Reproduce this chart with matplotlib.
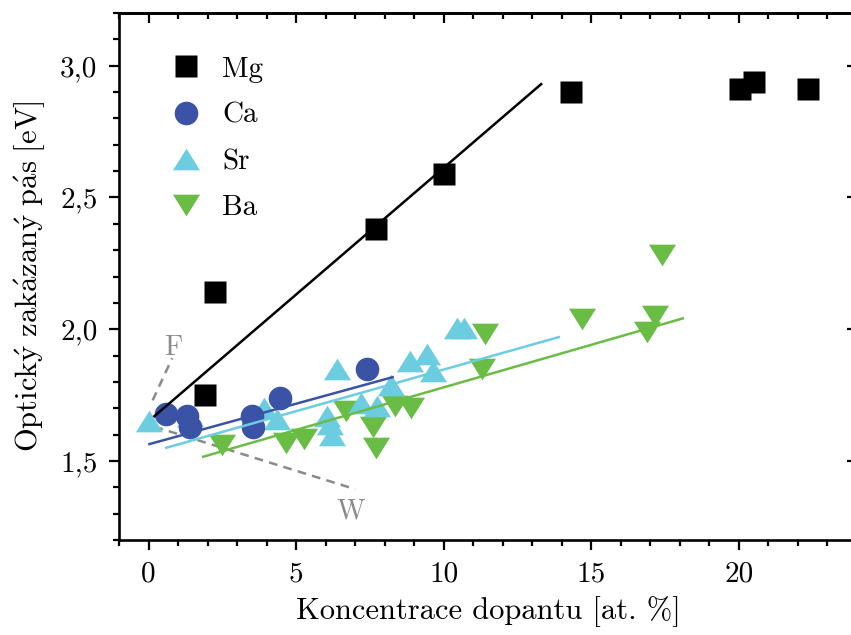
import matplotlib
matplotlib.use("Agg")
import matplotlib.pyplot as plt
from matplotlib.ticker import MultipleLocator, FixedLocator, FixedFormatter

plt.rcParams["font.family"] = ["cmr10", "DejaVu Serif"]
plt.rcParams["axes.unicode_minus"] = False
plt.rcParams["mathtext.fontset"] = "cm"

# --- data ------------------------------------------------------------------
mg_x = [1.9, 2.25, 7.7, 10.0, 14.3, 20.05, 20.5, 22.35]
mg_y = [1.75, 2.14, 2.38, 2.59, 2.90, 2.91, 2.94, 2.91]

ca_x = [0.6, 1.3, 1.4, 3.5, 3.55, 4.45, 7.4]
ca_y = [1.68, 1.67, 1.63, 1.67, 1.63, 1.74, 1.85]

sr_x = [0.0, 1.4, 3.9, 4.35, 6.4, 6.05, 6.15, 6.2, 7.2, 7.75, 8.2, 8.85, 9.45, 9.65, 10.45, 10.7]
sr_y = [1.65, 1.67, 1.70, 1.66, 1.85, 1.67, 1.64, 1.60, 1.72, 1.71, 1.79, 1.88, 1.905, 1.84, 2.005, 2.005]

ba_x = [2.5, 4.65, 5.25, 6.7, 7.6, 7.7, 8.35, 8.9, 11.3, 11.4, 14.7, 16.9, 17.15, 17.4]
ba_y = [1.56, 1.57, 1.585, 1.69, 1.63, 1.55, 1.71, 1.70, 1.85, 1.98, 2.04, 1.99, 2.05, 2.28]

# fit lines (endpoints)
mg_fit_x, mg_fit_y = [0.2, 13.3], [1.67, 2.93]
ca_fit_x, ca_fit_y = [0.03, 8.27], [1.564, 1.818]
sr_fit_x, sr_fit_y = [0.6, 13.9], [1.55, 1.97]
ba_fit_x, ba_fit_y = [1.85, 18.1], [1.516, 2.041]

# guide lines F and W
f_x, f_y = [0.14, 0.8], [1.73, 1.89]
w_x, w_y = [0.2, 7.0], [1.63, 1.393]

xticks = [0, 5, 10, 15, 20]
yticks = [1.5, 2.0, 2.5, 3.0]
ytick_labels = ["1,5", "2,0", "2,5", "3,0"]

BLACK = "#000000"
CA_C = "#3a53a6"
SR_C = "#6dcde0"
BA_C = "#69bd45"
GUIDE = "#8a8a8a"

tri_up = [(-1, -0.8), (1, -0.8), (0, 0.8), (-1, -0.8)]
tri_dn = [(-1, 0.8), (1, 0.8), (0, -0.8), (-1, 0.8)]

fig = plt.figure(figsize=(8.51, 6.35), dpi=100)
ax = fig.add_axes([119 / 851, 95 / 635, 738 / 851, 527 / 635])

# guides and fits underneath the markers
ax.plot(f_x, f_y, ls=(0, (3.5, 2.5)), color=GUIDE, lw=1.8, zorder=1)
ax.plot(w_x, w_y, ls=(0, (3.5, 2.5)), color=GUIDE, lw=1.8, zorder=1)
ax.text(0.85, 1.93, "F", color=GUIDE, fontsize=20, ha="center", va="center")
ax.text(6.85, 1.31, "W", color=GUIDE, fontsize=20, ha="center", va="center")

ax.plot(mg_fit_x, mg_fit_y, color=BLACK, lw=1.8, zorder=4)
ax.plot(ca_fit_x, ca_fit_y, color=CA_C, lw=1.8, zorder=4)
ax.plot(sr_fit_x, sr_fit_y, color=SR_C, lw=1.8, zorder=4)
ax.plot(ba_fit_x, ba_fit_y, color=BA_C, lw=1.8, zorder=4)

ax.plot(ba_x, ba_y, ls="none", marker=tri_dn, ms=19.5, color=BA_C, mec="none", zorder=2, label="Ba")
ax.plot(sr_x, sr_y, ls="none", marker=tri_up, ms=19.5, color=SR_C, mec="none", zorder=2, label="Sr")
ax.plot(ca_x, ca_y, ls="none", marker="o", ms=17, color=CA_C, mec="none", zorder=3, label="Ca")
ax.plot(mg_x, mg_y, ls="none", marker="s", ms=16, color=BLACK, mec="none", zorder=3, label="Mg")

handles, labels = ax.get_legend_handles_labels()
order = [3, 2, 1, 0]
ax.legend([handles[i] for i in order], [labels[i] for i in order],
          loc="upper left", bbox_to_anchor=(0.055, 0.94), frameon=False,
          fontsize=21, handlelength=1.0, handletextpad=0.75, labelspacing=0.68,
          borderaxespad=0.0)

ax.set_xlim(-1, 24)
ax.set_ylim(1.2, 3.2)
ax.xaxis.set_major_locator(FixedLocator(xticks))
ax.xaxis.set_minor_locator(MultipleLocator(1))
ax.yaxis.set_major_locator(FixedLocator(yticks))
ax.yaxis.set_major_formatter(FixedFormatter(ytick_labels))
ax.yaxis.set_minor_locator(MultipleLocator(0.1))

ax.tick_params(which="both", direction="out", width=1.6, labelsize=21, top=False, right=False)
ax.tick_params(which="major", length=7.5)
ax.tick_params(which="minor", length=4.5)
ax.tick_params(axis="x", which="major", pad=8)
ax.tick_params(axis="y", which="major", pad=8)
for s in ax.spines.values():
    s.set_linewidth(1.9)

# mirrored ticks pointing inward on the top and right
secx = ax.secondary_xaxis("top")
secx.xaxis.set_major_locator(FixedLocator(xticks))
secx.xaxis.set_minor_locator(MultipleLocator(1))
secx.tick_params(which="both", direction="in", width=1.6, labeltop=False)
secx.tick_params(which="major", length=7.5)
secx.tick_params(which="minor", length=4.5)
secx.spines["top"].set_linewidth(1.9)
secy = ax.secondary_yaxis("right")
secy.yaxis.set_major_locator(FixedLocator(yticks))
secy.yaxis.set_minor_locator(MultipleLocator(0.1))
secy.tick_params(which="both", direction="in", width=1.6, labelright=False)
secy.tick_params(which="major", length=7.5)
secy.tick_params(which="minor", length=4.5)
secy.spines["right"].set_linewidth(1.9)

ax.set_xlabel("Koncentrace dopantu [at. %]", fontsize=22, labelpad=6)
# accents through mathtext so the whole label stays in Computer Modern
ax.set_ylabel(r"$\mathrm{Optick\acute{y}\ zak\acute{a}zan\acute{y}\ p\acute{a}s\ [eV]}$",
              fontsize=22, labelpad=9)

fig.savefig("out.png", dpi=100)
